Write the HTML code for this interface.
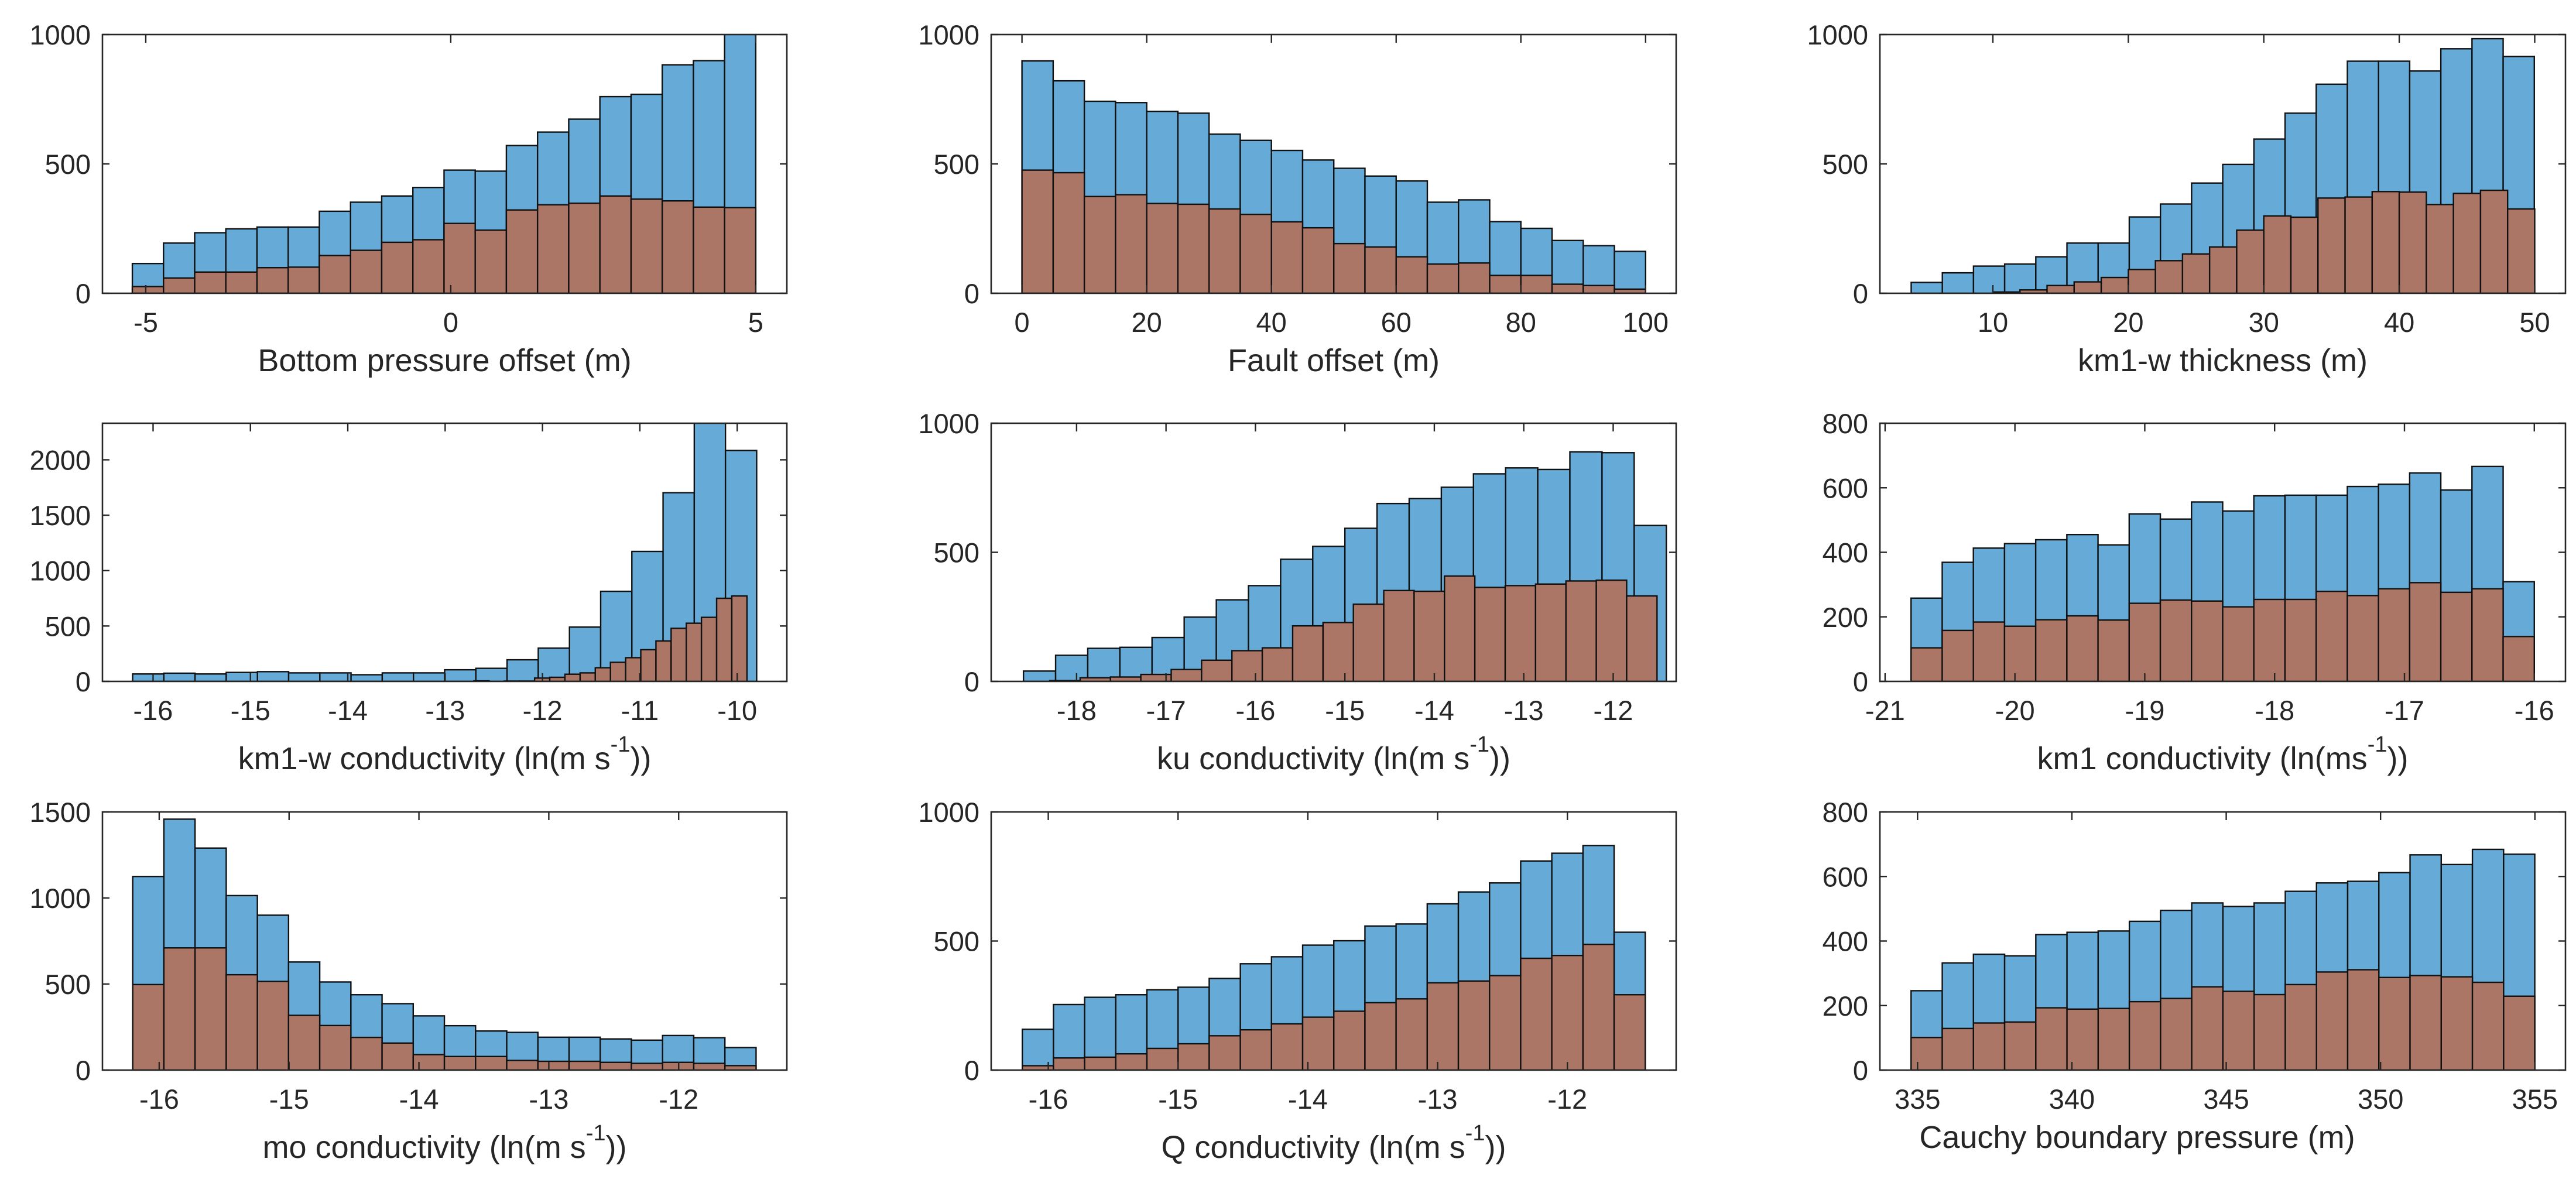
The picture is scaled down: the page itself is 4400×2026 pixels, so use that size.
<!DOCTYPE html>
<html>
<head>
<meta charset="utf-8">
<style>
  html, body { margin: 0; padding: 0; background: #ffffff; }
  svg { display: block; }
  text { font-family: "Liberation Sans", "DejaVu Sans", sans-serif; fill: #262626; }
</style>
</head>
<body>
<svg id="fig" xmlns="http://www.w3.org/2000/svg" width="4400" height="2026" viewBox="0 0 4400 2026"></svg>
<script>
// ---------- data (counts per bin) ----------
const p1Blue = [115,194,234,249,256,256,317,352,376,409,476,472,571,623,673,760,769,883,899,1010];
const p1Red  = [26,59,82,82,99,101,146,166,197,207,270,244,322,342,348,376,364,357,333,331];
const p2Blue = [898,821,742,737,703,696,615,591,552,515,483,453,434,352,361,277,251,204,184,162];
const p2Red  = [476,466,374,381,347,344,326,305,276,253,192,179,141,113,117,69,69,35,30,16];
const p3Blue = [42,79,105,113,141,194,194,295,345,426,498,596,696,808,897,897,859,945,984,915];
const p3Red  = [5,13,30,44,61,92,126,152,179,244,299,294,368,372,393,391,343,386,398,326];
const p4Blue = [67,74,67,81,88,77,77,60,77,77,105,118,195,300,490,813,1173,1703,2400,2084];
const p4Red  = [0,5,0,3,3,30,37,65,77,123,172,214,286,365,479,525,578,750,771];
const p5Blue = [40,101,128,132,170,249,316,371,473,523,593,689,708,752,804,827,821,889,886,604];
const p5Red  = [3,14,17,27,46,82,119,130,215,228,299,352,349,408,364,371,377,389,392,331];
const p6Blue = [258,369,413,427,439,455,423,519,503,556,528,575,577,577,604,611,646,593,666,309];
const p6Red  = [104,158,184,171,191,203,190,242,252,249,231,254,254,279,266,287,306,276,287,139];
const p7Blue = [1125,1458,1290,1014,900,628,512,438,386,315,258,227,219,191,191,181,174,201,188,131];
const p7Red  = [497,710,710,554,515,318,259,190,157,90,79,79,56,51,51,45,39,45,39,26];
const p8Blue = [158,254,282,292,311,321,355,412,439,484,501,558,566,644,690,725,810,840,870,534];
const p8Red  = [17,47,50,63,84,102,133,156,179,205,228,261,276,338,345,366,433,444,487,292];
const p9Blue = [246,332,359,354,420,427,431,461,495,518,507,518,554,580,585,612,667,637,684,669];
const p9Red  = [101,129,146,149,193,189,191,212,222,258,244,234,265,304,311,287,293,289,272,229];

// bin starts / widths (data units)
const binStarts = [[-5.22,-5.22],[0,0],[3.97,10],[-16.21,-12.86],[-18.594,-18.30],[-20.80,-20.80],[-16.204,-16.204],[-16.20,-16.20],[334.79,334.79]];
const binWidths = [[0.511,0.511],[5,5],[2.30,2],[0.3205,0.1558],[0.3594,0.3395],[0.24,0.24],[0.240,0.240],[0.240,0.240],[1.0103,1.0103]];

// axis limits and ticks
const xLimits = [[-5.71,5.51],[-4.94,104.9],[1.66,52.27],[-16.52,-9.49],[-18.955,-11.296],[-21.04,-15.76],[-16.437,-11.167],[-16.44,-11.162],[333.78,355.99]];
const yMaxes = [1000,1000,1000,2330,1000,800,1500,1000,800];
const xTicks = [[-5,0,5],[0,20,40,60,80,100],[10,20,30,40,50],[-16,-15,-14,-13,-12,-11,-10],[-18,-17,-16,-15,-14,-13,-12],[-21,-20,-19,-18,-17,-16],[-16,-15,-14,-13,-12],[-16,-15,-14,-13,-12],[335,340,345,350,355]];
const yTicks = [[0,500,1000],[0,500,1000],[0,500,1000],[0,500,1000,1500,2000],[0,500,1000],[0,200,400,600,800],[0,500,1000,1500],[0,500,1000],[0,200,400,600,800]];
const xLabels = ["Bottom pressure offset (m)","Fault offset (m)","km1-w thickness (m)","km1-w conductivity (ln(m s","ku conductivity (ln(m s","km1 conductivity (ln(ms","mo conductivity (ln(m s","Q conductivity (ln(m s","Cauchy boundary pressure (m)"];
const hasSup = [false,false,false,true,true,true,true,true,false];
const blueData = [p1Blue,p2Blue,p3Blue,p4Blue,p5Blue,p6Blue,p7Blue,p8Blue,p9Blue];
const redData = [p1Red,p2Red,p3Red,p4Red,p5Red,p6Red,p7Red,p8Red,p9Red];
const panelNames = ["bottom-pressure-offset","fault-offset","km1-w-thickness","km1-w-conductivity","ku-conductivity","km1-conductivity","mo-conductivity","q-conductivity","cauchy-boundary-pressure"];

// ---------- layout ----------
const colLeft = [175,1693,3211], colRight = [1344,2863,4382];
const rowTop = [59,723,1387], rowBottom = [501,1164,1828];
const labelShift = [0,0,0,0,0,0,0,0,-146];
const NS = "http://www.w3.org/2000/svg";
const svg = document.getElementById("fig");
const defs = document.createElementNS(NS,"defs");
svg.appendChild(defs);

function mk(tag, attrs, parent){
  const e = document.createElementNS(NS, tag);
  for (const k in attrs) e.setAttribute(k, attrs[k]);
  parent.appendChild(e);
  return e;
}

for (let p = 0; p < 9; p++) {
  const c = p % 3, r = Math.floor(p / 3);
  const L = colLeft[c], R = colRight[c], T = rowTop[r], B = rowBottom[r];
  const [xmin, xmax] = xLimits[p];
  const ymax = yMaxes[p];
  const sx = v => L + (v - xmin) / (xmax - xmin) * (R - L);
  const sy = v => B - v / ymax * (B - T);

  const g = mk("g", {}, svg);
  
  

  const clip = mk("clipPath", {id: "clip" + p}, defs);
  mk("rect", {x: L, y: T, width: R - L, height: B - T}, clip);
  const bars = mk("g", {"clip-path": "url(#clip" + p + ")"}, g);

  const series = [[blueData[p], "#66aad7", 0, "blue"], [redData[p], "#ab7665", 1, "red"]];
  for (const [vals, col, si, nm] of series) {
    const st = binStarts[p][si], w = binWidths[p][si];
    vals.forEach((v, i) => {
      if (v <= 0) return;
      const x0 = sx(st + i * w), x1 = sx(st + (i + 1) * w);
      const y = sy(v);
      const rect = mk("rect", {x: x0, y: y, width: x1 - x0, height: B - y, fill: col, stroke: "#111", "stroke-width": 2.4}, bars);
      
      
    });
  }

  // axes box
  const box = mk("rect", {x: L, y: T, width: R - L, height: B - T, fill: "none", stroke: "#262626", "stroke-width": 2.6}, g);
  
  

  // x ticks
  xTicks[p].forEach(t => {
    const x = sx(t);
    mk("line", {x1: x, y1: B, x2: x, y2: B - 14, stroke: "#262626", "stroke-width": 2.4}, g);
    mk("line", {x1: x, y1: T, x2: x, y2: T + 14, stroke: "#262626", "stroke-width": 2.4}, g);
    const tx = mk("text", {x: x, y: B + 66, "font-size": 47, "text-anchor": "middle"}, g);
    tx.textContent = String(t);
    
    
  });
  // y ticks
  yTicks[p].forEach(t => {
    const y = sy(t);
    mk("line", {x1: L, y1: y, x2: L + 12, y2: y, stroke: "#262626", "stroke-width": 2.4}, g);
    mk("line", {x1: R, y1: y, x2: R - 12, y2: y, stroke: "#262626", "stroke-width": 2.4}, g);
    const ty = mk("text", {x: L - 20, y: y + 17, "font-size": 47, "text-anchor": "end"}, g);
    ty.textContent = String(t);
    
    
  });

  // x label
  const cx = (L + R) / 2 + labelShift[p];
  const ly = B + (hasSup[p] ? 150 : 133);
  const lab = mk("text", {x: cx, y: ly, "font-size": 54, "text-anchor": "middle"}, g);
  
  
  lab.appendChild(document.createTextNode(xLabels[p]));
  if (hasSup[p]) {
    const s1 = mk("tspan", {dy: -30, "font-size": 38}, lab);
    s1.textContent = "-1";
    const s2 = mk("tspan", {dy: 30}, lab);
    s2.textContent = "))";
  }
}
</script>
</body>
</html>
